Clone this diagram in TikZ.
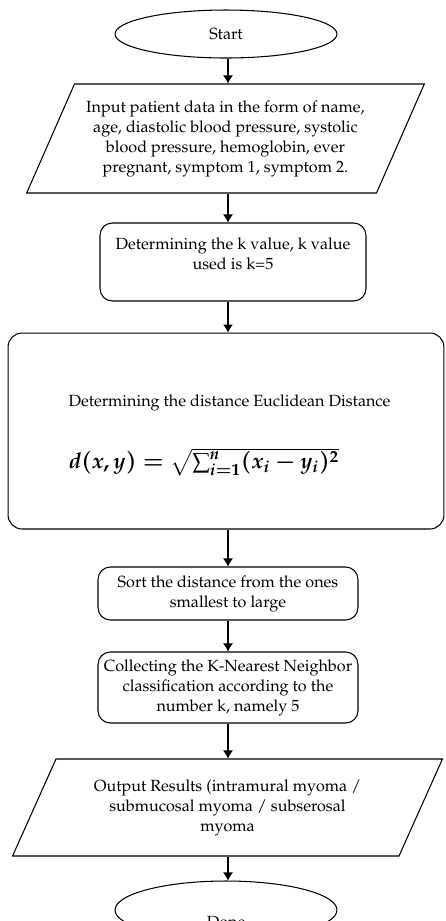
\documentclass[tikz,border=0pt]{standalone}
\usepackage[T1]{fontenc}
\usepackage{mathpazo}
\usetikzlibrary{shapes.geometric,arrows.meta}

\newcommand{\distformula}{{\boldmath$d(x,y)=\sqrt{\sum_{i=1}^{n}(x_i-y_i)^2}$}}

\tikzset{
  terminal/.style={ellipse, draw, inner sep=0pt, minimum width=4.44cm, font=\fontsize{9.2}{11.4}\selectfont},
  io/.style={trapezium, draw, trapezium stretches=true, inner sep=0pt, align=center, font=\fontsize{9.2}{11.4}\selectfont},
  process/.style={rectangle, rounded corners=7pt, draw, inner sep=0pt, align=center, font=\fontsize{9.2}{11.4}\selectfont},
  boxtext/.style={align=center, inner sep=0pt, font=\fontsize{9.2}{11.4}\selectfont},
  formulatext/.style={inner sep=0pt, font=\fontsize{12.5}{15}\selectfont},
  flow/.style={-{Latex[length=0.16cm,width=0.2cm]}},
}

\begin{document}
\begin{tikzpicture}[x=0.02cm, y=-0.02cm, line width=0.6pt]
    % Fix the page size
    \useasboundingbox (0,0) rectangle (446,921);

    % Line the connectors follow
    \coordinate (axis) at (228,0);

    % Draw the start and the input
    \node[terminal, minimum height=0.96cm] (start) at (226,34) {Start};
    \node[io, trapezium left angle=60, trapezium right angle=120,
          minimum width=7.98cm, minimum height=2.18cm] (input) at (225.5,138.5)
        {Input patient data in the form of name,\\
         age, diastolic blood pressure, systolic\\
         blood pressure, hemoglobin, ever\\
         pregnant, symptom 1, symptom 2.};

    % Draw the k value box
    \node[process, minimum width=5.32cm, minimum height=1.56cm] (kbox) at (233,262) {};
    \node[boxtext] (ktext) at (233,254)
        {Determining the k value, k value\\ used is k=5};

    % Draw the distance box
    \node[process, rounded corners=8pt, minimum width=8.72cm, minimum height=3.92cm] (dist) at (226,431) {};
    \node[boxtext, anchor=west] (disttext) at (68,403)
        {Determining the distance Euclidean Distance};
    \node[formulatext, anchor=west] (distformula) at (68,462) {\distformula};

    % Draw the sort and the collect boxes
    \node[process, minimum width=5.2cm, minimum height=1.06cm] (sort) at (228,593.5)
        {Sort the distance from the ones\\ smallest to large};
    \node[process, minimum width=5.2cm, minimum height=1.42cm] (collect) at (228,687.5)
        {Collecting the K-Nearest Neighbor\\
         classification according to the\\
         number k, namely 5};

    % Draw the output and the end
    \node[io, trapezium left angle=59, trapezium right angle=121,
          minimum width=8.62cm, minimum height=1.94cm] (output) at (227.5,807.5)
        {Output Results (intramural myoma /\\
         submucosal myoma / subserosal\\
         myoma};
    \node[terminal, minimum height=1.16cm] (done) at (226,910) {};
    \node[boxtext] (donetext) at (226,922) {Done};

    % Draw the connectors
    \draw[flow] (start.south -| axis) -- (input.north -| axis);
    \draw[flow] (input.south -| axis) -- (kbox.north -| axis);
    \draw[flow] (kbox.south -| axis) -- (dist.north -| axis);
    \draw[flow] (dist.south -| axis) -- (sort.north -| axis);
    \draw[flow] (sort.south -| axis) -- (collect.north -| axis);
    \draw[flow] (collect.south -| axis) -- (output.north -| axis);
    \draw[flow] (output.south -| axis) -- (done.north -| axis);

\end{tikzpicture}
\end{document}
